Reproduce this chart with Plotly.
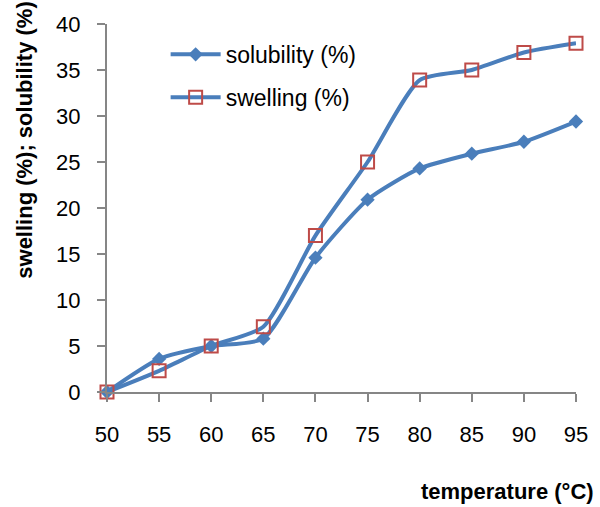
import plotly.graph_objects as go

temperature = [50, 55, 60, 65, 70, 75, 80, 85, 90, 95]
solubility = [0, 3.6, 5.0, 5.8, 14.6, 20.9, 24.3, 25.9, 27.2, 29.4]
swelling = [0, 2.3, 5.0, 7.1, 17.0, 25.0, 33.9, 35.0, 36.9, 37.9]

x_ticks = [50, 55, 60, 65, 70, 75, 80, 85, 90, 95]
y_ticks = [0, 5, 10, 15, 20, 25, 30, 35, 40]

line_blue = "#4A7EBB"
marker_red = "#BE4B48"
axis_gray = "#868686"
font_family = "Liberation Sans, Arial, sans-serif"

fig = go.Figure()
fig.add_trace(go.Scatter(
    x=temperature, y=solubility, name="solubility (%)",
    mode="lines+markers", line=dict(color=line_blue, width=4, shape="spline", smoothing=0.6),
    marker=dict(symbol="diamond", size=11, color=line_blue),
    legendgroup="a", cliponaxis=False,
))
fig.add_trace(go.Scatter(
    x=temperature, y=swelling, name="swelling (%)",
    mode="lines+markers", line=dict(color=line_blue, width=4, shape="spline", smoothing=0.6),
    marker=dict(symbol="square-open", size=13, color=marker_red, line=dict(width=2, color=marker_red)),
    legendgroup="b", cliponaxis=False,
))

fig.update_layout(
    width=600, height=507,
    margin=dict(l=107, r=22, t=22, b=115),
    paper_bgcolor="white", plot_bgcolor="white",
    font=dict(family=font_family, size=22, color="black"),
    showlegend=True,
    legend=dict(
        x=0.125, y=0.976, xanchor="left", yanchor="top",
        bgcolor="rgba(0,0,0,0)", font=dict(size=23),
        tracegroupgap=10, itemwidth=50,
    ),
    xaxis=dict(
        range=[50, 95], tickvals=x_ticks, ticktext=[str(v) for v in x_ticks],
        showgrid=False, zeroline=False, showline=True, linecolor=axis_gray, linewidth=2,
        ticks="outside", ticklen=8, tickwidth=2, tickcolor=axis_gray,
        ticklabelstandoff=14,
    ),
    yaxis=dict(
        range=[0, 40], tickvals=y_ticks, ticktext=[str(v) for v in y_ticks],
        showgrid=False, zeroline=False, showline=True, linecolor=axis_gray, linewidth=2,
        ticks="outside", ticklen=8, tickwidth=2, tickcolor=axis_gray,
        ticklabelstandoff=12,
    ),
    annotations=[
        dict(text="<b>temperature (°C)</b>", xref="paper", yref="paper",
             x=(598 - 107) / 471, y=-(492 - 392) / 370, xanchor="right", yanchor="middle",
             showarrow=False, font=dict(size=22)),
        dict(text="<b>swelling (%); solubility (%)</b>", xref="paper", yref="paper",
             x=-(107 - 24) / 471, y=(392 - 139) / 370, xanchor="center", yanchor="middle",
             textangle=-90, showarrow=False, font=dict(size=22)),
    ],
)

fig.write_html("out.html")
